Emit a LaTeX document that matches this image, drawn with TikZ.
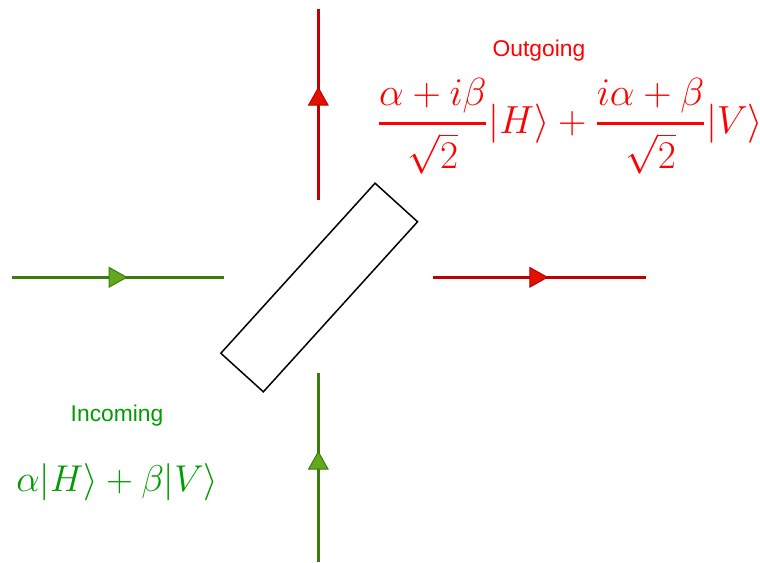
\documentclass[tikz,border=0pt]{standalone}
\usepackage{amsmath}
\usepackage{fontspec}
\setsansfont{Liberation Sans}
\usetikzlibrary{arrows.meta,decorations.markings}
\definecolor{rline}{RGB}{190,0,0}
\definecolor{rfill}{RGB}{228,16,0}
\definecolor{gline}{RGB}{58,125,14}
\definecolor{gfill}{RGB}{100,168,30}
\definecolor{rtext}{RGB}{255,0,0}
\definecolor{gtext}{RGB}{0,155,0}
\newcommand{\thickfrac}[2]{\genfrac{}{}{1.8pt}{0}{#1}{#2}}
\tikzset{
  beam/.style={line width=3pt},
  redbeam/.style={beam, rline, postaction={decorate}, decoration={markings,
    mark=at position #1 with {\arrow{Triangle[length=19pt,width=21pt,fill=rfill,line width=1pt]}}}},
  greenbeam/.style={beam, gline, postaction={decorate}, decoration={markings,
    mark=at position #1 with {\arrow{Triangle[length=19pt,width=21pt,fill=gfill,line width=1pt]}}}},
  splitter/.style={draw=black, line width=1.5pt, minimum width=229.6pt, minimum height=57.4pt, inner sep=0pt},
  lbl/.style={font=\sffamily\fontsize{22.8}{26}\selectfont, inner sep=0pt},
  eq/.style={font=\fontsize{26}{30}\selectfont, inner sep=0pt, transform shape}
}
\begin{document}
\begin{tikzpicture}[x=1pt,y=-1pt]
\useasboundingbox (0,0) rectangle (760,562);
\node[splitter, rotate=47.8] (bs) at (319.2,287.5) {};
\coordinate (gin1) at (12,277.3);
\coordinate (gin2) at (224.3,277.3);
\coordinate (rout1) at (433.3,277.3);
\coordinate (rout2) at (646,277.3);
\coordinate (rup1) at (318.3,200);
\coordinate (rup2) at (318.3,9);
\coordinate (gup1) at (318.3,561.7);
\coordinate (gup2) at (318.3,373.3);
\draw[greenbeam=0.545] (gin1) -- (gin2);
\draw[redbeam=0.541] (rout1) -- (rout2);
\draw[redbeam=0.593] (rup1) -- (rup2);
\draw[greenbeam=0.589] (gup1) -- (gup2);
\node[lbl, rtext, anchor=base] (outlbl) at (539,56.7) {Outgoing};
\node[lbl, gtext, anchor=base] (inlbl) at (117,421.7) {Incoming};
\node[eq, rtext, anchor=base west, scale=1.576] (outeq) at (377,133) {$\thickfrac{\alpha+i\beta}{\sqrt{2}}|H\rangle+\thickfrac{i\alpha+\beta}{\sqrt{2}}|V\rangle$};
\node[eq, gtext, anchor=base west, scale=1.5] (ineq) at (16,491) {$\alpha|H\rangle+\beta|V\rangle$};
\end{tikzpicture}
\end{document}
